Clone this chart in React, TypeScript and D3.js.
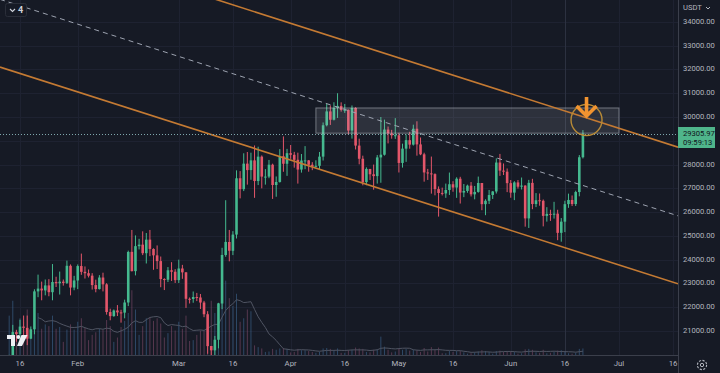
import React, { useEffect, useRef } from 'react'
import * as d3 from 'd3'

const W = 720
const H = 373

// daily candles: [open, high, low, close, volume (k)]
const candlesJan = [
  [18846, 19999, 18714, 19930, 450], [19930, 21258, 19889, 20954, 620], [20952, 21050, 20551, 20871, 250],
  [20872, 21474, 20611, 21185, 420], [21185, 21650, 20834, 21133, 380], [21133, 21650, 20407, 20677, 520],
  [20677, 21192, 20659, 21071, 300], [21071, 22755, 20861, 22667, 420], [22666, 23371, 22422, 22783, 480],
  [22783, 23078, 22292, 22707, 300], [22706, 23166, 22500, 22916, 350], [22917, 23180, 22462, 22633, 330],
  [22632, 23816, 22292, 23060, 450], [23060, 23282, 22850, 23009, 300], [23009, 23500, 22534, 23074, 320],
  [23075, 23165, 22908, 23022, 150], [23022, 23960, 22976, 23743, 290], [23743, 23800, 22500, 22827, 350],
  [22827, 23320, 22714, 23125, 290]
]
const candlesFeb = [
  [23125, 23800, 22760, 23732, 380], [23732, 24255, 23363, 23488, 420], [23488, 23715, 23207, 23431, 310],
  [23431, 23587, 23253, 23326, 170], [23327, 23433, 22743, 22932, 230], [22932, 23158, 22628, 22763, 260],
  [22763, 23350, 22745, 23249, 300], [23249, 23452, 22665, 22963, 290], [22961, 23011, 21688, 21797, 400],
  [21797, 21938, 21451, 21625, 330], [21626, 21906, 21599, 21862, 150], [21863, 22090, 21630, 21783, 200],
  [21783, 21894, 21351, 21773, 320], [21773, 22319, 21533, 22199, 390], [22199, 24380, 22047, 24324, 480],
  [24328, 25250, 23505, 23517, 740], [23518, 25021, 23339, 24569, 520], [24568, 24877, 24430, 24631, 230],
  [24632, 25192, 24192, 24271, 330], [24272, 25121, 23840, 24842, 420], [24843, 25250, 24148, 24452, 430],
  [24451, 24476, 23574, 24182, 390], [24182, 24599, 23608, 23940, 420], [23940, 24132, 22841, 23185, 360],
  [23185, 23219, 22722, 23157, 200], [23157, 23689, 23059, 23554, 250], [23554, 23895, 23106, 23492, 330],
  [23492, 23600, 23020, 23141, 280]
]
const candlesMar = [
  [23141, 24000, 23020, 23628, 380], [23629, 23781, 23195, 23466, 300], [23466, 23479, 21971, 22354, 450],
  [22354, 22410, 22157, 22346, 160], [22346, 22662, 22189, 22430, 170], [22430, 22602, 22258, 22410, 230],
  [22409, 22557, 21927, 22197, 280], [22198, 22267, 21580, 21705, 280], [21705, 21834, 20042, 20363, 480],
  [20368, 20370, 19549, 20188, 620], [20187, 20792, 19914, 20633, 480], [20632, 22185, 20271, 22163, 450],
  [22156, 24500, 21918, 24198, 900], [24197, 26500, 24123, 24746, 850], [24743, 25250, 23931, 24375, 650],
  [24373, 25200, 24192, 25055, 560], [25055, 27756, 24890, 27423, 700], [27424, 27725, 26578, 26965, 380],
  [26965, 28474, 26885, 28038, 420], [28039, 28528, 27156, 27767, 520], [27768, 28500, 27360, 28176, 500],
  [28176, 28803, 26601, 27307, 110], [27307, 28750, 27137, 28333, 90], [28333, 28383, 27000, 27493, 75],
  [27494, 27808, 27157, 27494, 35], [27494, 28194, 27426, 27994, 40], [27994, 28037, 26555, 27140, 70],
  [27140, 27500, 26646, 27268, 60], [27268, 28650, 27241, 28348, 75], [28348, 29184, 27697, 28033, 80],
  [28033, 28660, 27525, 28478, 70]
]
const candlesApr = [
  [28478, 28822, 28240, 28411, 30], [28411, 28535, 27870, 28199, 35], [28200, 28500, 27200, 27790, 70],
  [27790, 28444, 27661, 28169, 55], [28170, 28775, 27806, 28175, 55], [28175, 28190, 27700, 27991, 45],
  [27991, 28100, 27765, 27917, 35], [27917, 28180, 27884, 27947, 25], [27947, 28530, 27800, 28333, 35],
  [28333, 29770, 28170, 29652, 75], [29653, 30550, 29607, 30235, 80], [30235, 30485, 29666, 29884, 70],
  [29884, 30620, 29855, 30383, 55], [30384, 31000, 29961, 30466, 75], [30466, 30617, 30226, 30295, 25],
  [30295, 30549, 30174, 30304, 25], [30304, 30316, 29266, 29430, 55], [29431, 30485, 29091, 30380, 60],
  [30380, 30412, 28634, 28798, 85], [28798, 29088, 28010, 28243, 75], [28244, 28374, 27125, 27262, 70],
  [27262, 27882, 27131, 27816, 35], [27816, 27816, 27351, 27591, 30], [27591, 28000, 26942, 27514, 60],
  [27514, 28399, 27200, 28300, 65], [28300, 30000, 27235, 28415, 210], [28414, 29890, 28377, 29473, 95],
  [29472, 29600, 28890, 29311, 60], [29311, 29459, 29087, 29230, 30], [29230, 29952, 29079, 29233, 40]
]
const candlesMay = [
  [29233, 29337, 27667, 28068, 75], [28068, 28879, 27872, 28669, 60], [28669, 29266, 28113, 29027, 70],
  [29026, 29379, 28667, 28838, 50], [28838, 29677, 28800, 29506, 60], [29506, 29820, 28374, 28848, 55],
  [28848, 29138, 28395, 28430, 35], [28430, 28498, 27281, 27668, 80], [27668, 27818, 27353, 27628, 40],
  [27628, 28336, 26777, 27598, 90], [27598, 27630, 26706, 26968, 60], [26968, 27081, 25811, 26804, 85],
  [26808, 27030, 26701, 26785, 20], [26785, 27200, 26600, 26930, 20], [26930, 27664, 26721, 27171, 45],
  [27171, 27299, 26857, 27033, 35], [27033, 27465, 26600, 27405, 45], [27405, 27485, 26361, 26822, 45],
  [26822, 27183, 26630, 26890, 30], [26890, 27155, 26813, 27113, 15], [27113, 27265, 26658, 26747, 20],
  [26747, 27099, 26538, 26849, 30], [26850, 27495, 26817, 27225, 40], [27225, 27225, 26080, 26334, 55],
  [26334, 26539, 25871, 26476, 45], [26476, 26932, 26341, 26719, 35], [26720, 26887, 26553, 26868, 15],
  [26868, 28261, 26782, 28085, 45], [28085, 28447, 27524, 27745, 50], [27745, 28045, 27559, 27700, 35],
  [27700, 27835, 26841, 27219, 45]
]
const candlesJun = [
  [27219, 27350, 26605, 26819, 40], [26820, 27300, 26505, 27249, 35], [27249, 27350, 26990, 27069, 15],
  [27069, 27455, 26951, 27116, 20], [27116, 27129, 25388, 25736, 65], [25736, 27355, 25333, 27230, 70],
  [27230, 27400, 26123, 26340, 60], [26340, 26800, 26210, 26498, 30], [26498, 26783, 26269, 26477, 25],
  [26477, 26530, 25400, 25841, 60], [25841, 26208, 25600, 25925, 20], [25925, 26100, 25631, 25905, 25],
  [25905, 26433, 25728, 25934, 35], [25935, 26099, 24820, 25128, 50], [25128, 25750, 24756, 25598, 55],
  [25598, 26478, 25160, 26335, 45], [26336, 26777, 26180, 26511, 20], [26511, 26700, 26255, 26339, 15],
  [26339, 26900, 26256, 26844, 25], [26844, 28400, 26665, 28307, 70], [28307, 29450, 28257, 29306, 75]
]
const firstDay = '2023-01-13'
const volumeMaLength = 9

const timeTicks = ['2023-01-16', '2023-02-01', '2023-03-01', '2023-03-16', '2023-04-01', '2023-04-16',
  '2023-05-01', '2023-05-16', '2023-06-01', '2023-06-16', '2023-07-01', '2023-07-16']
const timeTickLabels = ['16', 'Feb', 'Mar', '16', 'Apr', '16', 'May', '16', 'Jun', '16', 'Jul', '16']
const priceTicks = [21000, 22000, 23000, 24000, 25000, 26000, 27000, 28000, 29000, 30000, 31000, 32000, 33000, 34000]

const lastPrice = 29305.97
const countdown = '09:59:13'

// drawings
const zone = { from: '2023-04-08', to: '2023-07-01', top: 30380, bottom: 29320 }
const upperChannel = [['2023-03-18', 34620], ['2023-07-17', 28750]]
const lowerChannel = [['2023-01-10', 32120], ['2023-07-17', 23000]]
const midDashed = [['2023-01-10', 34970], ['2023-07-17', 25860]]
const marker = { date: '2023-06-22', price: 29874, arrowFrom: 30840, arrowTo: 30000 }

const BG = '#161a25'
const GRID = '#1e2231'
const TEXT = '#b2b5be'
const UP = '#45b98f'
const DOWN = '#e3566a'

export default function App() {
  const ref = useRef<SVGSVGElement>(null)

  useEffect(() => {
    document.body.style.margin = '0'
    const svg = d3.select(ref.current)
    svg.selectAll('*').remove()

    const parse = d3.utcParse('%Y-%m-%d')
    const candles = [...candlesJan, ...candlesFeb, ...candlesMar, ...candlesApr, ...candlesMay, ...candlesJun]
    const start = parse(firstDay) as Date
    const days = d3.utcDay.range(start, d3.utcDay.offset(start, candles.length))
    const rows = candles.map((c, i) => ({
      date: days[i], open: c[0], high: c[1], low: c[2], close: c[3], volume: c[4]
    }))

    const paneW = 678
    const paneH = 355

    const x = d3.scaleUtc().domain([parse('2023-01-16'), parse('2023-07-01')] as Date[]).range([20, 619])
    const y = d3.scaleLinear().domain([21000, 30000]).range([331, 117])
    const yVol = d3.scaleLinear().domain([0, 800]).range([paneH, paneH - 70])

    svg.append('defs').append('clipPath').attr('id', 'pane')
      .append('rect').attr('width', paneW).attr('height', paneH)

    const pane = svg.append('g').attr('clip-path', 'url(#pane)')

    // grid
    pane.selectAll('.hgrid').data(priceTicks).enter().append('line')
      .attr('x1', 0).attr('x2', paneW)
      .attr('y1', d => Math.round(y(d)) + 0.5).attr('y2', d => Math.round(y(d)) + 0.5)
      .attr('stroke', GRID)
    pane.selectAll('.vgrid').data(timeTicks).enter().append('line')
      .attr('x1', d => Math.round(x(parse(d) as Date)) + 0.5)
      .attr('x2', d => Math.round(x(parse(d) as Date)) + 0.5)
      .attr('y1', 0).attr('y2', paneH)
      .attr('stroke', (d, i) => i === 9 ? '#2c3140' : GRID)

    // volume
    pane.selectAll('.vol').data(rows).enter().append('rect')
      .attr('x', d => x(d.date) - 0.5)
      .attr('width', 1)
      .attr('y', d => yVol(d.volume))
      .attr('height', d => paneH - yVol(d.volume))
      .attr('fill', d => d.close >= d.open ? 'rgba(70,120,170,0.5)' : 'rgba(150,85,120,0.5)')

    const ma = rows.map((d, i) => {
      if (i < volumeMaLength - 1) return null
      return { date: d.date, value: d3.mean(rows.slice(i - volumeMaLength + 1, i + 1), r => r.volume) as number }
    }).filter(d => d !== null) as { date: Date, value: number }[]

    pane.append('path')
      .datum(ma)
      .attr('fill', 'none')
      .attr('stroke', '#4f5462')
      .attr('stroke-width', 1)
      .attr('d', d3.line<{ date: Date, value: number }>().x(d => x(d.date)).y(d => yVol(d.value)))

    // candles
    const candle = pane.selectAll('.candle').data(rows).enter().append('g')
    candle.append('rect')
      .attr('x', d => x(d.date) - 0.5)
      .attr('width', 1)
      .attr('y', d => y(d.high))
      .attr('height', d => y(d.low) - y(d.high))
      .attr('fill', d => d.close >= d.open ? UP : DOWN)
    candle.append('rect')
      .attr('x', d => x(d.date) - 1.3)
      .attr('width', 2.6)
      .attr('y', d => y(Math.max(d.open, d.close)))
      .attr('height', d => Math.max(1, Math.abs(y(d.open) - y(d.close))))
      .attr('fill', d => d.close >= d.open ? UP : DOWN)

    // zone box
    pane.append('rect')
      .attr('x', x(parse(zone.from) as Date))
      .attr('y', y(zone.top))
      .attr('width', x(parse(zone.to) as Date) - x(parse(zone.from) as Date))
      .attr('height', y(zone.bottom) - y(zone.top))
      .attr('fill', 'rgba(200,205,220,0.13)')
      .attr('stroke', 'rgba(210,215,225,0.45)')
      .attr('stroke-width', 1)

    // trend lines, extended across the pane
    const left = x.invert(0)
    const right = x.invert(paneW)
    const trend = (pts: (string | number)[][], color: string, dash: string | null, width: number) => {
      const t = d3.scaleLinear()
        .domain([+(parse(pts[0][0] as string) as Date), +(parse(pts[1][0] as string) as Date)])
        .range([pts[0][1] as number, pts[1][1] as number])
      pane.append('line')
        .attr('x1', 0).attr('y1', y(t(+left)))
        .attr('x2', paneW).attr('y2', y(t(+right)))
        .attr('stroke', color)
        .attr('stroke-width', width)
        .attr('stroke-dasharray', dash)
    }
    trend(midDashed, '#9da3b0', '5,4', 1)
    trend(upperChannel, '#c47a33', null, 1.6)
    trend(lowerChannel, '#c47a33', null, 1.6)

    // last price line
    pane.append('line')
      .attr('x1', 0).attr('x2', paneW)
      .attr('y1', Math.round(y(lastPrice)) + 0.5).attr('y2', Math.round(y(lastPrice)) + 0.5)
      .attr('stroke', '#7fa8ad')
      .attr('stroke-dasharray', '1,2')

    // circle + arrow marker
    const mx = x(parse(marker.date) as Date)
    pane.append('circle')
      .attr('cx', mx).attr('cy', y(marker.price)).attr('r', 15.5)
      .attr('fill', 'none').attr('stroke', '#b88a36').attr('stroke-width', 1.4)
    const tip = y(marker.arrowTo)
    pane.append('path')
      .attr('d', `M${mx},${y(marker.arrowFrom)}V${tip - 2}M${mx - 10},${tip - 11}L${mx},${tip - 1}L${mx + 10},${tip - 11}`)
      .attr('fill', 'none').attr('stroke', '#f29430').attr('stroke-width', 3.6)
      .attr('stroke-linejoin', 'miter')

    // time axis
    svg.append('line')
      .attr('x1', 0).attr('x2', paneW).attr('y1', paneH + 0.5).attr('y2', paneH + 0.5)
      .attr('stroke', '#3b3f4b')
    svg.selectAll('.tlabel').data(timeTicks).enter().append('text')
      .attr('x', d => x(parse(d) as Date))
      .attr('y', 364)
      .attr('text-anchor', 'middle')
      .attr('dominant-baseline', 'middle')
      .attr('fill', TEXT)
      .attr('font-size', 7.8)
      .text((d, i) => timeTickLabels[i])

    // price axis (ticks under the last-price label are hidden, as in the terminal)
    const py = y(lastPrice)
    svg.append('rect').attr('x', paneW).attr('y', 0).attr('width', W - paneW).attr('height', H).attr('fill', BG)
    svg.append('line')
      .attr('x1', paneW + 0.5).attr('x2', paneW + 0.5).attr('y1', 0).attr('y2', H)
      .attr('stroke', '#3b3f4b')
    svg.selectAll('.plabel').data(priceTicks.filter(d => Math.abs(y(d) - (py + 4)) > 14)).enter().append('text')
      .attr('x', 683)
      .attr('y', d => y(d))
      .attr('dominant-baseline', 'middle')
      .attr('fill', TEXT)
      .attr('font-size', 7.6)
      .text(d => d3.format('.2f')(d))
    svg.append('text')
      .attr('x', 683).attr('y', 8)
      .attr('dominant-baseline', 'middle')
      .attr('fill', TEXT).attr('font-size', 7.6)
      .text('USDT')
    svg.append('path').attr('d', 'M706,7 l2,2 l2,-2').attr('fill', 'none').attr('stroke', TEXT)

    svg.append('rect')
      .attr('x', paneW).attr('y', py - 6.5).attr('width', 37).attr('height', 21)
      .attr('fill', '#4fb58b')
    svg.append('text')
      .attr('x', 683).attr('y', py).attr('dominant-baseline', 'middle')
      .attr('fill', '#10141c').attr('font-size', 7.6).text(d3.format('.2f')(lastPrice))
    svg.append('text')
      .attr('x', 683).attr('y', py + 9.5).attr('dominant-baseline', 'middle')
      .attr('fill', '#10141c').attr('font-size', 7.6).text(countdown)

    // gear icon
    const gear = svg.append('g').attr('transform', 'translate(702,365)')
    gear.append('circle').attr('r', 4.6).attr('fill', 'none').attr('stroke', TEXT).attr('stroke-width', 1.1)
      .attr('stroke-dasharray', '2.2,1.4')
    gear.append('circle').attr('r', 1.7).attr('fill', 'none').attr('stroke', TEXT).attr('stroke-width', 1)

    // legend toggle
    svg.append('rect')
      .attr('x', 5.5).attr('y', 3.5).attr('width', 21).attr('height', 13).attr('rx', 2)
      .attr('fill', BG).attr('stroke', '#2a2e39')
    svg.append('path').attr('d', 'M10,9 l2.5,2.5 l2.5,-2.5').attr('fill', 'none').attr('stroke', '#d1d4dc').attr('stroke-width', 1.1)
    svg.append('text')
      .attr('x', 18).attr('y', 10.5).attr('dominant-baseline', 'middle')
      .attr('fill', '#d1d4dc').attr('font-size', 9).attr('font-weight', 700).text('4')

    // logo
    const logo = svg.append('g').attr('fill', '#eef0f4')
    logo.append('path').attr('d', 'M7,335 h8 v11 h-4 v-7 h-4 z')
    logo.append('circle').attr('cx', 18.3).attr('cy', 337).attr('r', 1.9)
    logo.append('path').attr('d', 'M21.5,335 h6 l-5.5,11 h-5 z')
  }, [])

  return (
    <svg
      ref={ref}
      width={W}
      height={H}
      style={{ position: 'fixed', left: 0, top: 0, background: BG, fontFamily: 'Roboto, sans-serif' }}
    />
  )
}
